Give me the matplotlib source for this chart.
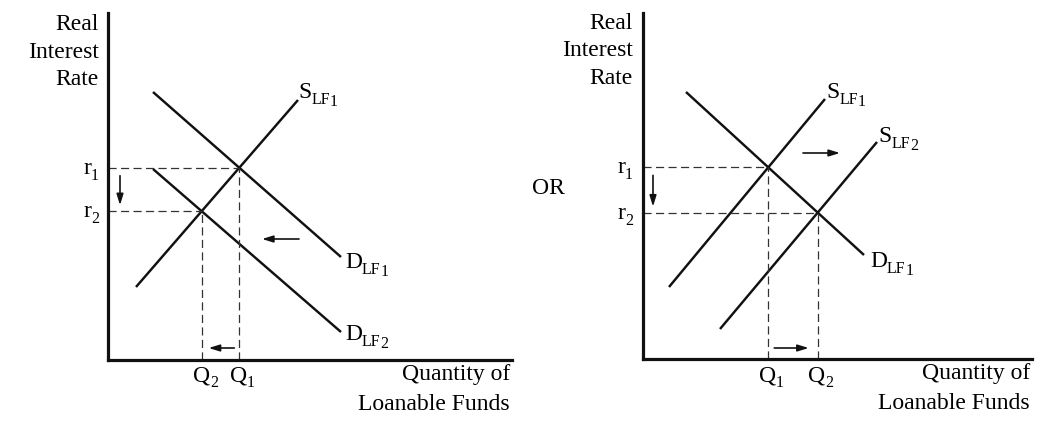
import matplotlib
matplotlib.use("Agg")
import matplotlib.pyplot as plt
from matplotlib.font_manager import FontProperties
import numpy as np

plt.rcParams['font.family'] = ['Liberation Serif', 'DejaVu Serif']

# ------------------------------------------------------------------
# Data: curve endpoints (quantity, rate) for each panel
# ------------------------------------------------------------------
# Left panel: demand for loanable funds shifts left
left_supply1 = [(28, 73), (190, 260)]
left_demand1 = [(45, 268), (233, 103)]
left_demand2 = [(45, 191), (233, 28)]

# Right panel: supply of loanable funds shifts right
right_supply1 = [(26, 72), (182, 260)]
right_supply2 = [(77, 30), (234, 217)]
right_demand1 = [(43, 267), (221, 104)]

y_title = "Real\nInterest\nRate"
x_title = ["Quantity of", "Loanable Funds"]

FS = 17          # main font size (pt)
SUB = 0.68       # subscript scale
DROP1 = 4.3      # subscript drop (pt)
DROP2 = 6.0      # second-level subscript drop (pt)
INK = "#111111"


def intersect(a, b):
    (x1, y1), (x2, y2) = a
    (x3, y3), (x4, y4) = b
    m1 = (y2 - y1) / (x2 - x1)
    m2 = (y4 - y3) / (x4 - x3)
    x = (y3 - y1 + m1 * x1 - m2 * x3) / (m1 - m2)
    return x, y1 + m1 * (x - x1)


def setup(ax, xmax, ymax):
    ax.set_xlim(0, xmax)
    ax.set_ylim(0, ymax)
    for s in ['top', 'right']:
        ax.spines[s].set_visible(False)
    for s in ['left', 'bottom']:
        ax.spines[s].set_linewidth(2.3)
        ax.spines[s].set_color(INK)
    ax.set_xticks([])
    ax.set_yticks([])
    ax.patch.set_alpha(0)


def curve(ax, pts):
    xs, ys = zip(*pts)
    ax.plot(xs, ys, color=INK, lw=1.75, solid_capstyle='butt')


def guides(ax, q, r):
    ax.plot([0, q], [r, r], color="#333333", lw=0.9, ls=(0, (6.5, 3.5)))
    ax.plot([q, q], [0, r], color="#333333", lw=0.9, ls=(0, (6.5, 3.5)))


def arrow(ax, start, end):
    ax.annotate("", xy=end, xytext=start,
                arrowprops=dict(arrowstyle="-|>,head_length=0.65,head_width=0.2",
                                color=INK, lw=1.2, shrinkA=0, shrinkB=0))


def label(ax, x, y, main, sub="", subsub="", ha="left"):
    # main letter with one or two levels of subscript, laid out by measured widths
    rend = fig.canvas.get_renderer()
    parts = [(main, FS, 0.0), (sub, FS * SUB, -DROP1), (subsub, FS * SUB, -DROP2)]
    widths = []
    for s, size, _ in parts:
        if s:
            prop = FontProperties(family='Liberation Serif', size=size)
            w = rend.get_text_width_height_descent(s, prop, ismath=False)[0]
            widths.append(w * 72 / fig.dpi)
        else:
            widths.append(0)
    total = sum(widths)
    off = {"left": 0, "center": -total / 2, "right": -total}[ha]
    for (s, size, dy), w in zip(parts, widths):
        if s:
            ax.annotate(s, xy=(x, y), xycoords='data', xytext=(off, dy),
                        textcoords='offset points', fontsize=size,
                        ha='left', va='baseline', annotation_clip=False)
        off += w


def axis_text(ax, xmax_text, title_x):
    ax.text(title_x, 308, y_title, ha='right', va='center', fontsize=FS,
            linespacing=1.38, multialignment='right')
    ax.text(xmax_text, -20, x_title[0], ha='right', va='baseline', fontsize=FS)
    ax.text(xmax_text, -50, x_title[1], ha='right', va='baseline', fontsize=FS)


fig = plt.figure(figsize=(10.62, 4.23), dpi=100)
W, H = 1062, 423

# ---------------- left panel ----------------
axL = fig.add_axes([108 / W, (H - 360) / H, 404 / W, 347 / H])
setup(axL, 404, 347)
for c in (left_supply1, left_demand1, left_demand2):
    curve(axL, c)
q1, r1 = intersect(left_supply1, left_demand1)
q2, r2 = intersect(left_supply1, left_demand2)
guides(axL, q1, r1)
guides(axL, q2, r2)
arrow(axL, (12, r1 - 8), (12, r2 + 6))
arrow(axL, (191, 121), (154, 121))
arrow(axL, (q1 - 5, 12), (q2 + 7, 12))
label(axL, -9, r1 - 6, "r", "1", ha="right")
label(axL, -9, r2 - 6, "r", "2", ha="right")
label(axL, q1 + 3, -21, "Q", "1", ha="center")
label(axL, q2 + 4, -21, "Q", "2", ha="center")
label(axL, 190, 262, "S", "LF", "1")
label(axL, 237, 92, "D", "LF", "1")
label(axL, 237, 20, "D", "LF", "2")
axis_text(axL, 402, -9)

# ---------------- right panel ----------------
axR = fig.add_axes([643 / W, (H - 359) / H, 389 / W, 346 / H])
setup(axR, 389, 346)
for c in (right_supply1, right_supply2, right_demand1):
    curve(axR, c)
q1, r1 = intersect(right_supply1, right_demand1)
q2, r2 = intersect(right_supply2, right_demand1)
guides(axR, q1, r1)
guides(axR, q2, r2)
arrow(axR, (10, r1 - 8), (10, r2 + 6))
arrow(axR, (160, 206), (197, 206))
arrow(axR, (q1 + 6, 11), (q2 - 9, 11))
label(axR, -10, r1 - 6, "r", "1", ha="right")
label(axR, -10, r2 - 6, "r", "2", ha="right")
label(axR, q1 + 3, -22, "Q", "1", ha="center")
label(axR, q2 + 3, -22, "Q", "2", ha="center")
label(axR, 183, 261, "S", "LF", "1")
label(axR, 235, 217, "S", "LF", "2")
label(axR, 227, 92, "D", "LF", "1")
axis_text(axR, 387, -10)
axR.text(-95, 171, "OR", ha='center', va='center', fontsize=FS)

fig.savefig("out.png", dpi=100, facecolor='white')
